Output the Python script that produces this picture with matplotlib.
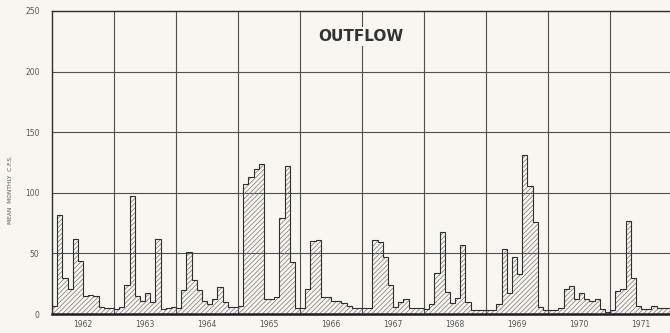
import numpy as np
import matplotlib.pyplot as plt

# Mean monthly outflow, c.f.s., Jan..Dec for each year
YEARS = [1962, 1963, 1964, 1965, 1966, 1967, 1968, 1969, 1970, 1971]
FLOW_1962 = [7, 82, 30, 21, 62, 44, 15, 16, 15, 6, 5, 5]
FLOW_1963 = [4, 6, 24, 97, 15, 11, 17, 10, 62, 4, 5, 6]
FLOW_1964 = [5, 20, 51, 28, 20, 11, 8, 12, 22, 10, 6, 6]
FLOW_1965 = [7, 107, 113, 120, 124, 12, 12, 14, 79, 122, 43, 5]
FLOW_1966 = [5, 21, 60, 61, 14, 14, 11, 11, 9, 7, 5, 5]
FLOW_1967 = [5, 5, 61, 59, 47, 24, 6, 10, 12, 5, 5, 5]
FLOW_1968 = [4, 8, 34, 68, 18, 9, 13, 57, 10, 3, 3, 3]
FLOW_1969 = [3, 3, 8, 54, 17, 47, 33, 131, 106, 76, 6, 3]
FLOW_1970 = [3, 3, 5, 21, 23, 12, 17, 12, 11, 12, 4, 2]
FLOW_1971 = [3, 19, 21, 77, 30, 7, 4, 4, 7, 5, 5, 5]
Y_TICKS = [0, 50, 100, 150, 200, 250]

PAPER = "#f8f6f0"
INK = "#2e2e2e"
GRID = "#4f4f4f"
TEXT = "#555555"

flow = np.concatenate([FLOW_1962, FLOW_1963, FLOW_1964, FLOW_1965, FLOW_1966,
                       FLOW_1967, FLOW_1968, FLOW_1969, FLOW_1970, FLOW_1971]).astype(float)
edges = np.arange(len(flow) + 1)

plt.rcParams["hatch.linewidth"] = 0.5

fig = plt.figure(figsize=(6.7, 3.33), dpi=100, facecolor=PAPER)
ax = fig.add_axes([52 / 670, 19 / 333, 620 / 670, 303 / 333])
ax.set_facecolor(PAPER)
ax.set_xlim(0, len(flow))
ax.set_ylim(0, 250)

# grid: flow levels and year boundaries
for v in Y_TICKS[1:-1]:
    ax.axhline(v, color=GRID, lw=0.8, zorder=1)
for k in range(12, len(flow), 12):
    ax.axvline(k, color=GRID, lw=0.8, zorder=1)

# hatched monthly steps
ax.fill_between(edges, np.append(flow, flow[-1]), step="post", facecolor="none",
                edgecolor="#747474", hatch="///////", linewidth=0, zorder=2)
ax.stairs(flow, edges, color=INK, lw=0.8, zorder=3)

for side in ["left", "top"]:
    ax.spines[side].set_color(INK)
    ax.spines[side].set_linewidth(1.0)
ax.spines["bottom"].set_color("#1e1e1e")
ax.spines["bottom"].set_linewidth(1.8)
ax.spines["right"].set_visible(False)

ax.set_yticks(Y_TICKS)
ax.set_yticklabels([str(v) for v in Y_TICKS], fontsize=5.5, color=TEXT)
ax.tick_params(axis="y", length=0, pad=9)
ax.set_xticks(np.arange(len(YEARS)) * 12 + 6)
ax.set_xticklabels([str(y) for y in YEARS], fontsize=5.5, color=TEXT)
ax.tick_params(axis="x", length=0, pad=4)

ax.text(0.498, 0.917, "OUTFLOW", transform=ax.transAxes, ha="center", va="center",
        fontsize=11, fontweight="bold", color="#333333", zorder=4,
        bbox=dict(facecolor=PAPER, edgecolor="none", pad=1.5))

fig.text(10.5 / 670, 1 - 190 / 333, "MEAN  MONTHLY  C.F.S.", rotation=90,
         ha="center", va="center", fontsize=4.2, color=TEXT)

fig.savefig("out.png", dpi=100, facecolor=PAPER)
